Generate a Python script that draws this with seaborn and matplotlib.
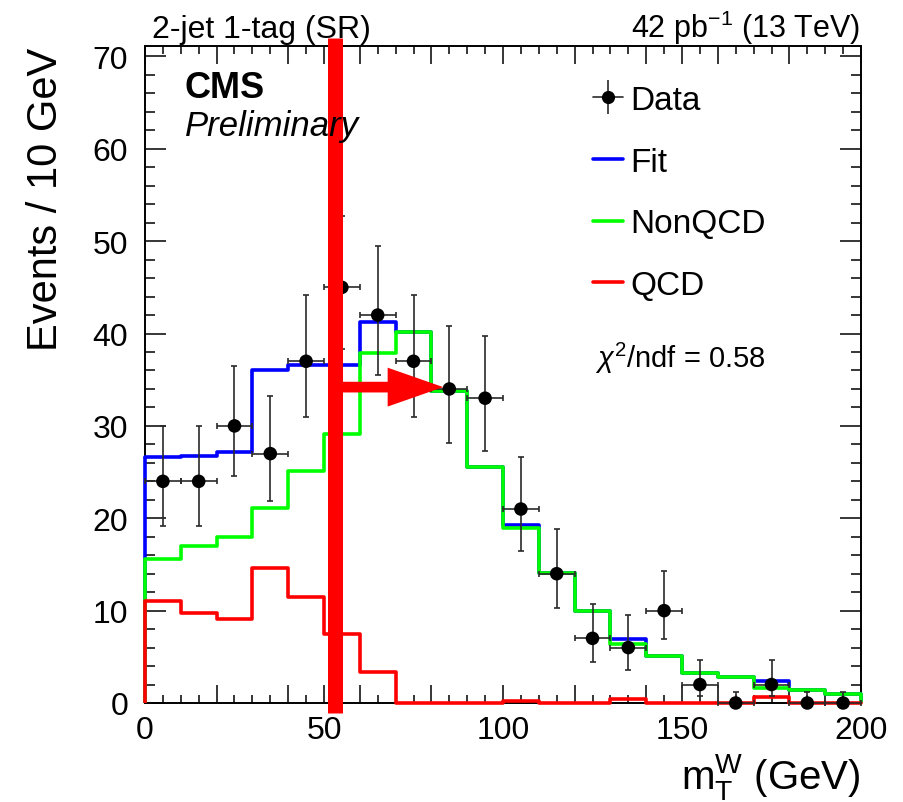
import numpy as np
import pandas as pd
import matplotlib
matplotlib.use("Agg")
import matplotlib.pyplot as plt
import seaborn as sns
from matplotlib.lines import Line2D
from matplotlib.legend_handler import HandlerTuple
from matplotlib.ticker import FixedLocator, MultipleLocator, FuncFormatter

# ---------------- data ----------------
bin_edges = [0, 10, 20, 30, 40, 50, 60, 70, 80, 90, 100,
             110, 120, 130, 140, 150, 160, 170, 180, 190, 200]
bin_centers = [5, 15, 25, 35, 45, 55, 65, 75, 85, 95,
               105, 115, 125, 135, 145, 155, 165, 175, 185, 195]

data_counts = [24, 24, 30, 27, 37, 45, 42, 37, 34, 33,
               21, 14, 7, 6, 10, 2, 0, 2, 0, 0]
data_err_low = [4.86, 4.86, 5.45, 5.16, 6.06, 6.68, 6.46, 6.06, 5.80, 5.73,
                4.55, 3.70, 2.58, 2.38, 3.11, 1.29, 0.0, 1.29, 0.0, 0.0]
data_err_high = [5.94, 5.94, 6.51, 6.23, 7.12, 7.76, 7.53, 7.12, 6.87, 6.78,
                 5.65, 4.83, 3.77, 3.58, 4.26, 2.64, 1.15, 2.64, 1.15, 1.15]
data_xerr = [5] * 20

fit_vals = [26.6, 26.7, 27.2, 36.0, 36.6, 36.6, 41.3, 40.2, 33.8, 25.5,
            19.3, 14.1, 9.95, 6.9, 5.1, 3.3, 2.8, 2.35, 1.45, 1.0]
nonqcd_vals = [15.6, 17.0, 18.0, 21.1, 25.1, 29.1, 37.9, 40.2, 33.8, 25.5,
               19.0, 14.1, 9.95, 6.4, 5.1, 3.3, 2.8, 1.6, 1.45, 1.0]
qcd_vals = [11.0, 9.7, 9.1, 14.6, 11.5, 7.5, 3.35, 0.0, 0.0, 0.0,
            0.25, 0.0, 0.0, 0.4, 0.0, 0.0, 0.0, 0.7, 0.0, 0.0]

x_tick_labels = [0, 50, 100, 150, 200]
x_long_ticks = [0, 20, 40, 50, 60, 80, 100, 120, 140, 150, 160, 180, 200]

cut_value = 53.0          # red cut line position (GeV)
arrow_end = 83.3          # arrow tip (GeV)
arrow_level = 34.2        # arrow height (events)
chi2_ndf = 0.58

# ---------------- style ----------------
sns.set_style("ticks")
plt.rcParams['font.family'] = ['Liberation Sans', 'DejaVu Sans']
plt.rcParams['mathtext.fontset'] = 'custom'
plt.rcParams['mathtext.rm'] = 'Liberation Sans'
plt.rcParams['mathtext.it'] = 'Liberation Sans:italic'
plt.rcParams['mathtext.bf'] = 'Liberation Sans:bold'
for key in ['text.color', 'axes.labelcolor', 'xtick.color', 'ytick.color', 'axes.edgecolor']:
    plt.rcParams[key] = 'black'

W, H = 904, 803
fig = plt.figure(figsize=(W / 100, H / 100), dpi=100)
ax_l, ax_r, ax_t, ax_b = 145, 861, 47.3, 704
ax = fig.add_axes([ax_l / W, 1 - ax_b / H, (ax_r - ax_l) / W, (ax_b - ax_t) / H])

hist_df = pd.DataFrame({"center": bin_centers, "fit": fit_vals,
                        "nonqcd": nonqcd_vals, "qcd": qcd_vals})

lw_hist = 2.6
series = [("fit", "#0000ff", 2), ("nonqcd", "#00ff00", 3), ("qcd", "#ff0000", 4)]
for col, color, z in series:
    sns.histplot(data=hist_df, x="center", weights=col, bins=bin_edges,
                 element="step", fill=False, color=color, linewidth=lw_hist,
                 ax=ax, zorder=z, clip_on=False)
    vals = hist_df[col].to_numpy()
    ax.vlines([bin_edges[0], bin_edges[-1]], 0, [vals[0], vals[-1]],
              colors=color, linewidth=lw_hist, zorder=z, clip_on=False)

# data points
ax.errorbar(bin_centers, data_counts, yerr=[data_err_low, data_err_high],
            xerr=data_xerr, fmt='none', ecolor='#2a2a2a', elinewidth=1.2,
            capsize=2.5, capthick=1.2, zorder=6, clip_on=False)
sns.scatterplot(x=bin_centers, y=data_counts, color='black', s=95,
                edgecolor='none', ax=ax, zorder=7, clip_on=False)

# cut line and arrow
ax.plot([cut_value, cut_value], [-1.06, 71.96], color='#ff0000', lw=10.8,
        solid_capstyle='butt', clip_on=False, zorder=10)
ax.annotate('', xy=(arrow_end, arrow_level), xytext=(cut_value, arrow_level),
            arrowprops=dict(arrowstyle='simple,head_length=4.0,head_width=2.8,tail_width=0.77',
                            mutation_scale=10, color='#ff0000', shrinkA=0, shrinkB=0, lw=0),
            zorder=10)

# axes
ax.set_xlim(bin_edges[0], bin_edges[-1])
ax.set_ylim(0, 71.1)
ax.xaxis.set_major_locator(FixedLocator(x_long_ticks))
ax.xaxis.set_major_formatter(FuncFormatter(lambda v, p: f"{int(v)}" if int(round(v)) in x_tick_labels else ""))
ax.xaxis.set_minor_locator(MultipleLocator(5))
ax.yaxis.set_major_locator(MultipleLocator(10))
ax.yaxis.set_minor_locator(MultipleLocator(2))
ax.tick_params(which='both', direction='in', top=True, right=True,
               color='black', labelcolor='black', width=1.1, labelsize=23)
ax.tick_params(axis='x', which='major', length=13, pad=9)
ax.tick_params(axis='x', which='minor', length=6)
ax.tick_params(axis='y', which='major', length=15, pad=12)
ax.tick_params(axis='y', which='minor', length=7.5)
for s in ax.spines.values():
    s.set_linewidth(1.4)
    s.set_color('black')
    s.set_zorder(1)

ax.set_xlabel(r'm$_{\mathrm{T}}^{\mathrm{W}}$ (GeV)', fontsize=29, loc='right', color='black')
ax.xaxis.set_label_coords(1.0, -0.073)
ax.set_ylabel('Events / 10 GeV', fontsize=30, loc='top', color='black')
ax.yaxis.set_label_coords(-0.110, 1.0)

# texts
fig.text(152 / W, 1 - 38 / H, '2-jet 1-tag (SR)', fontsize=23, va='baseline', ha='left')
fig.text(860 / W, 1 - 38 / H, r'42 pb$^{-1}$ (13 TeV)', fontsize=22, va='baseline', ha='right')
fig.text(185 / W, 1 - 98 / H, 'CMS', fontsize=26, fontweight='bold', va='baseline', ha='left')
fig.text(185 / W, 1 - 136 / H, 'Preliminary', fontsize=25, fontstyle='italic', va='baseline', ha='left')
fig.text(595 / W, 1 - 368 / H, r'$\chi^{2}$/ndf = ' + f'{chi2_ndf:.2f}', fontsize=21, va='baseline', ha='left')

# legend
data_handle = (Line2D([], [], color='#2a2a2a', lw=1.2),
               Line2D([], [], color='#2a2a2a', marker='|', ms=25, mew=1.2, ls='none'),
               Line2D([], [], color='black', marker='o', ms=9.5, mew=0, ls='none'))
handles = [data_handle,
           Line2D([], [], color='#0000ff', lw=2.6),
           Line2D([], [], color='#00ff00', lw=2.6),
           Line2D([], [], color='#ff0000', lw=2.6)]
labels = ['Data', 'Fit', 'NonQCD', 'QCD']
fs_leg = 24
px_leg = fs_leg * 100 / 72
ax.legend(handles, labels, handler_map={tuple: HandlerTuple(ndivide=1, pad=0)},
          loc='upper left', bbox_to_anchor=(593 / W, 1 - 86 / H), bbox_transform=fig.transFigure,
          frameon=False, fontsize=fs_leg, handlelength=30 / px_leg, handletextpad=7 / px_leg,
          labelspacing=0.92, borderpad=0, borderaxespad=0)

fig.savefig('out.png', dpi=100)
